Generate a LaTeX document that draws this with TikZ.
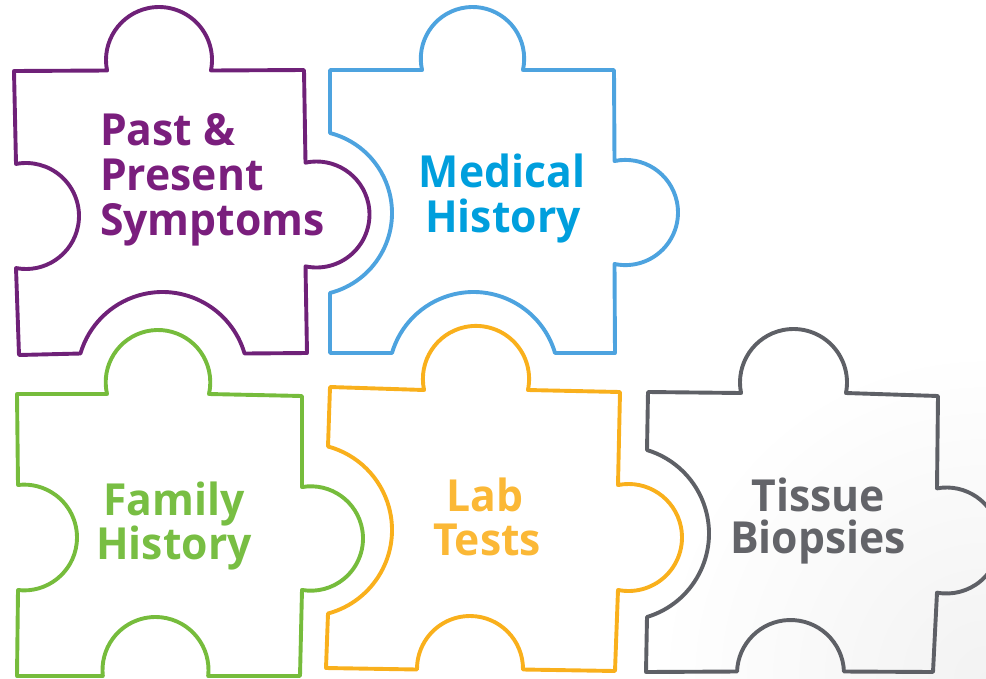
\documentclass[tikz,border=0pt]{standalone}
\usepackage{fontspec}
\setmainfont{Open Sans}[FakeStretch=0.965]
\usetikzlibrary{calc}

% outline and label colours
\definecolor{plumline}{HTML}{6F2178}
\definecolor{plumtext}{HTML}{7A1E7D}
\definecolor{skyline}{HTML}{4DA3DF}
\definecolor{skytext}{HTML}{009FDD}
\definecolor{leafline}{HTML}{76BC3C}
\definecolor{leaftext}{HTML}{78BE43}
\definecolor{amberline}{HTML}{F9B01C}
\definecolor{ambertext}{HTML}{FBB836}
\definecolor{slateline}{HTML}{5E6066}
\definecolor{slatetext}{HTML}{636469}

% one round knob or socket: centre, start angle, end angle, radius
\newcommand\pzarc[4]{-- ($(#1)+(#2:#4)$) arc[start angle=#2, end angle=#3, radius=#4]}

\tikzset{
  piece/.style={draw=#1, line width=3.9pt, line join=round, line cap=round},
  label/.style={text=#1, font=\bfseries\fontsize{44.2}{44}\selectfont, inner sep=0pt, anchor=base},
}

\begin{document}
\begin{tikzpicture}[x=1pt, y=1pt, yscale=-1]
\useasboundingbox (0,0) rectangle (986,678);

% faint grey glow in the lower right corner
\begin{scope}
  \clip (0,0) rectangle (986,678);
  \shade[inner color=black!5, outer color=white] (986,678) circle (330);
\end{scope}

% Past & Present Symptoms
\draw[piece=plumline] (14,71)
  \pzarc{159,60}{168.57}{371.43}{53} -- (304,70)
  \pzarc{316.5,214.5}{258.02}{461.98}{53} -- (307,353)
  \pzarc{162.5,377.5}{-16.30}{-163.70}{85.5} -- (19,355)
  \pzarc{26,216}{100.87}{-100.87}{53} -- cycle;

% Medical History
\draw[piece=skyline] (330,70)
  \pzarc{472.5,58.7}{167.37}{372.63}{51.7} -- (614,70)
  \pzarc{625.4,212.5}{258.04}{461.96}{52.6} -- (615,353)
  \pzarc{473.5,377}{-16.40}{-163.60}{85} -- (330,353)
  \pzarc{309.4,213}{75.56}{-75.56}{82.6} -- cycle;

% Family History
\draw[piece=leafline] (17,394)
  \pzarc{158,382.3}{167.07}{372.93}{52.3} -- (302,396)
  \pzarc{310.8,538.5}{260.29}{459.71}{52.2} -- (300,676)
  \pzarc{155.5,670}{6.50}{-186.50}{53} -- (17,676)
  \pzarc{24.1,537.5}{96.62}{-96.62}{52.9} -- cycle;

% Lab Tests
\draw[piece=amberline] (330,387)
  \pzarc{476,379}{168.04}{371.96}{53.1} -- (620,392)
  \pzarc{628.5,537.5}{258.68}{461.32}{53.5} -- (615,671)
  \pzarc{470,669}{0.54}{-180.54}{53} -- (326,668)
  \pzarc{305.5,530}{74.92}{-74.92}{86.5} -- cycle;

% Tissue Biopsies
\draw[piece=slateline] (648,392)
  \pzarc{793.5,382.5}{168.68}{371.32}{53.5} -- (938,396)
  \pzarc{946.5,540.5}{259.67}{460.33}{53} -- (933,672)
  \pzarc{790.5,673.5}{-2.14}{-177.86}{53.5} -- (646,672)
  \pzarc{621.8,533.5}{73.20}{-73.20}{87.2} -- cycle;

% labels
\node[label=plumtext, anchor=base west] (symA) at (100,145)   {Past \&};
\node[label=plumtext, anchor=base west] (symB) at (100,190.5) {Present};
\node[label=plumtext, anchor=base west] (symC) at (100,235)   {Symptoms};

\node[label=skytext] (medA) at (502,187) {Medical};
\node[label=skytext] (medB) at (503,232) {History};

\node[label=leaftext] (famA) at (174,515) {Family};
\node[label=leaftext] (famB) at (174,559) {History};

\node[label=ambertext] (labA) at (485,511) {Lab};
\node[label=ambertext] (labB) at (487,555) {Tests};

\node[label=slatetext] (tisA) at (818,511) {Tissue};
\node[label=slatetext] (tisB) at (818,553) {Biopsies};
\end{tikzpicture}
\end{document}
